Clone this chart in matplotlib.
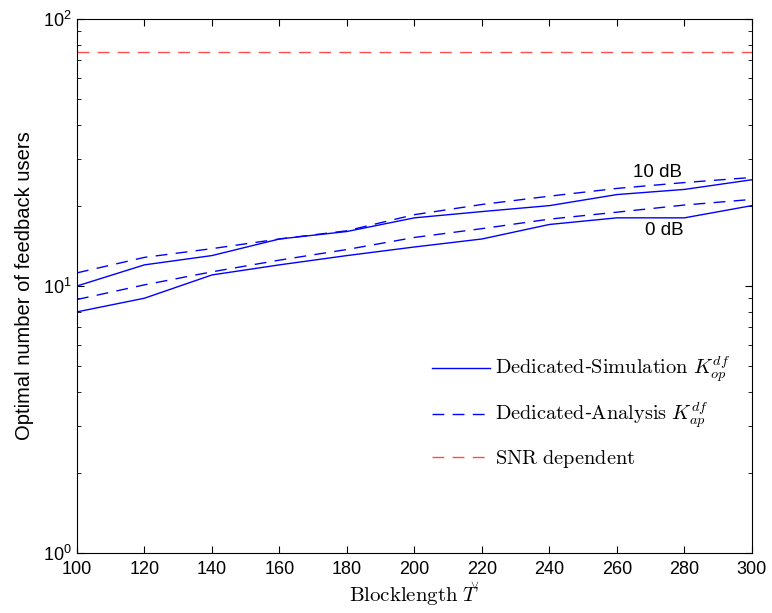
import matplotlib
matplotlib.use("Agg")
import matplotlib.pyplot as plt
from matplotlib.ticker import LogLocator, NullFormatter, MultipleLocator

plt.rcParams['mathtext.fontset'] = 'cm'
plt.rcParams['font.family'] = ['Liberation Sans', 'DejaVu Sans']

T = [100, 120, 140, 160, 180, 200, 220, 240, 260, 280, 300]
sim_10dB = [10, 12, 13, 15, 16, 18, 19, 20, 22, 23, 25]
sim_0dB = [8, 9, 11, 12, 13, 14, 15, 17, 18, 18, 20]
ana_10dB = [11.2, 12.8, 13.8, 15.0, 16.1, 18.5, 20.2, 21.7, 23.2, 24.4, 25.5]
ana_0dB = [8.9, 10.1, 11.3, 12.5, 13.7, 15.2, 16.4, 17.8, 18.9, 20.1, 21.1]
snr_dep = [75] * len(T)

fig = plt.figure(figsize=(7.72, 6.13), dpi=100)
ax = fig.add_axes([0.0997, 0.0979, 0.8743, 0.8711])

blue = '#0000ff'
red = '#ff4d4d'
dash = (8.5, 6)
l1, = ax.plot(T, sim_10dB, color=blue, lw=1.0)
ax.plot(T, sim_0dB, color=blue, lw=1.0)
l2, = ax.plot(T, ana_10dB, color=blue, lw=1.0, dashes=dash)
ax.plot(T, ana_0dB, color=blue, lw=1.0, dashes=dash)
l3, = ax.plot(T, snr_dep, color=red, lw=1.0, dashes=dash)

ax.set_yscale('log')
ax.set_xlim(100, 300)
ax.set_ylim(1, 100)
ax.xaxis.set_major_locator(MultipleLocator(20))
ax.yaxis.set_major_locator(LogLocator(base=10, numticks=10))
ax.yaxis.set_minor_locator(LogLocator(base=10, subs=range(2, 10), numticks=10))
ax.yaxis.set_minor_formatter(NullFormatter())
ax.tick_params(which='both', direction='in', top=True, right=True, labelsize=13)
ax.tick_params(which='major', length=5, pad=4)
ax.tick_params(axis='x', which='major', pad=6)
ax.tick_params(which='minor', length=3)
for s in ax.spines.values():
    s.set_linewidth(0.8)

ax.set_xlabel(r'$\mathrm{Blocklength}\ T$', fontsize=15, labelpad=5)
ax.set_ylabel('Optimal number of feedback users', fontsize=14.5, labelpad=6)

ax.text(272, 26.7, '10 dB', ha='center', va='center', fontsize=13.5)
ax.text(274, 16.2, '0 dB', ha='center', va='center', fontsize=13.5)

leg = ax.legend([l1, l2, l3],
                [r'$\mathrm{Dedicated}$-$\mathrm{Simulation}\ K_{op}^{df}$',
                 r'$\mathrm{Dedicated}$-$\mathrm{Analysis}\ K_{ap}^{df}$',
                 r'$\mathrm{SNR\ dependent}$'],
                loc='upper left', bbox_to_anchor=(0.526, 0.371), frameon=False,
                prop={'size': 14.7}, handlelength=2.84, borderpad=0, borderaxespad=0,
                handletextpad=0.25, labelspacing=0.81)

# caron accent over the italic T of the x label
fig.canvas.draw()
bb = ax.xaxis.label.get_window_extent()
fw, fh = fig.bbox.width, fig.bbox.height
fig.text((bb.x1 - 5.5) / fw, (bb.y1 - 7) / fh, r'$\vee$',
         ha='center', va='bottom', fontsize=8.5)

fig.savefig('out.png', dpi=100)
